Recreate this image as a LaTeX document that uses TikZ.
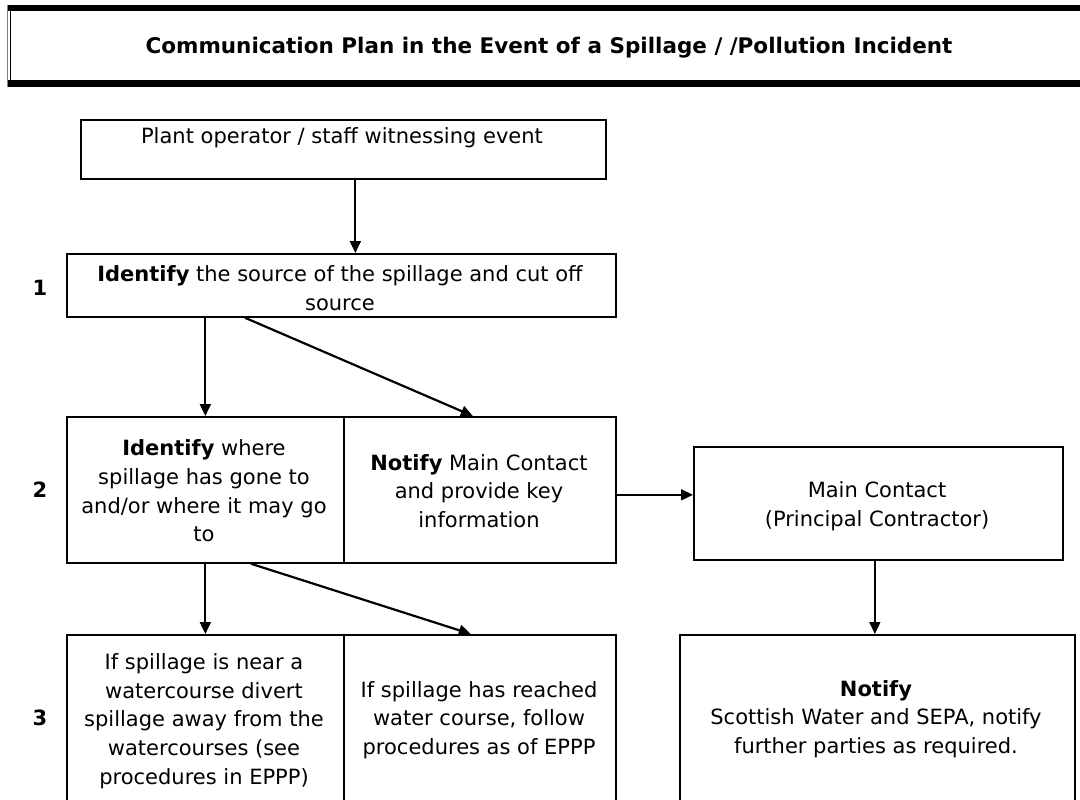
\documentclass[tikz,border=0pt]{standalone}
\usepackage{fontspec}
\setmainfont{DejaVu Sans}
\usetikzlibrary{arrows.meta,calc}
\begin{document}
\begin{tikzpicture}[x=1pt,y=-1pt,
  frame/.style={draw=black, line width=1.7pt, inner sep=0pt, anchor=north west},
  txt/.style={inner sep=0pt, align=center, font=\fontsize{21}{28.7}\selectfont},
  num/.style={inner sep=0pt, font=\fontsize{21}{25}\selectfont\bfseries},
  arr/.style={line width=2.2pt, -{Triangle[length=12pt,width=11pt]}},
  arrthin/.style={line width=1.6pt, -{Triangle[length=12pt,width=11pt]}}]
\useasboundingbox[fill=white] (0,0) rectangle (1080,800);

% title box
\draw[line width=6.5pt] (7,8) -- (1090,8);
\draw[line width=7pt] (7,83.5) -- (1090,83.5);
\draw[line width=1.3pt, gray] (7.5,5) -- (7.5,87);
\draw[line width=1.3pt] (10.5,11) -- (10.5,80);
\node[inner sep=0pt, font=\fontsize{21.5}{26}\selectfont\bfseries] (title) at (549,48) {Communication Plan in the Event of a Spillage / /Pollution Incident};

% boxes
\node[frame, minimum width=525pt, minimum height=59pt] (plant) at (80,119) {};
\node[frame, minimum width=549pt, minimum height=63pt] (box1) at (66,253) {};
\node[frame, minimum width=277pt, minimum height=146pt] (row2a) at (66,416) {};
\node[frame, minimum width=272pt, minimum height=146pt] (row2b) at (343,416) {};
\node[frame, minimum width=369pt, minimum height=113pt] (main) at (693,446) {};
\node[frame, minimum width=277pt, minimum height=180pt] (row3a) at (66,634) {};
\node[frame, minimum width=272pt, minimum height=180pt] (row3b) at (343,634) {};
\node[frame, minimum width=395pt, minimum height=180pt] (notify) at (679,634) {};

% texts
\node[txt] (plantt) at (342,138) {Plant operator / staff witnessing event};
\node[txt] (box1t) at (340,288) {\textbf{Identify} the source of the spillage and cut off\\source};
\node[txt] (row2at) at (204,491) {\textbf{Identify} where\\spillage has gone to\\and/or where it may go\\to};
\node[txt] (row2bt) at (479,491) {\textbf{Notify} Main Contact\\and provide key\\information};
\node[txt] (maint) at (877,506) {Main Contact\\(Principal Contractor)};
\node[txt] (row3at) at (204,721) {If spillage is near a\\watercourse divert\\spillage away from the\\watercourses (see\\procedures in EPPP)};
\node[txt] (row3bt) at (479,720) {If spillage has reached\\water course, follow\\procedures as of EPPP};
\node[txt] (notifyt) at (876,719) {\textbf{Notify}\\Scottish Water and SEPA, notify\\further parties as required.};

% step numbers
\node[num] (n1) at (40,288) {1};
\node[num] (n2) at (40,490) {2};
\node[num] (n3) at (40,718) {3};

% connectors
\draw[arr] ([xshift=12pt]plant.south) -- ([xshift=12pt]plant.south |- box1.north);
\draw[arr] (box1.south -| row2a.north) -- (row2a.north);
\draw[arr] ([xshift=-96.5pt]box1.south) -- ([xshift=-7pt]row2b.north);
\draw[arr] (row2a.south) -- (row3a.north);
\draw[arr] ([xshift=45.5pt]row2a.south) -- ([xshift=-9pt]row3b.north);
\draw[arrthin] ([yshift=-5pt]row2b.east) -- ([yshift=-5pt]row2b.east -| main.west);
\draw[arrthin] ([xshift=-3.5pt]main.south) -- ([xshift=-3.5pt]main.south |- notify.north);
\end{tikzpicture}
\end{document}
